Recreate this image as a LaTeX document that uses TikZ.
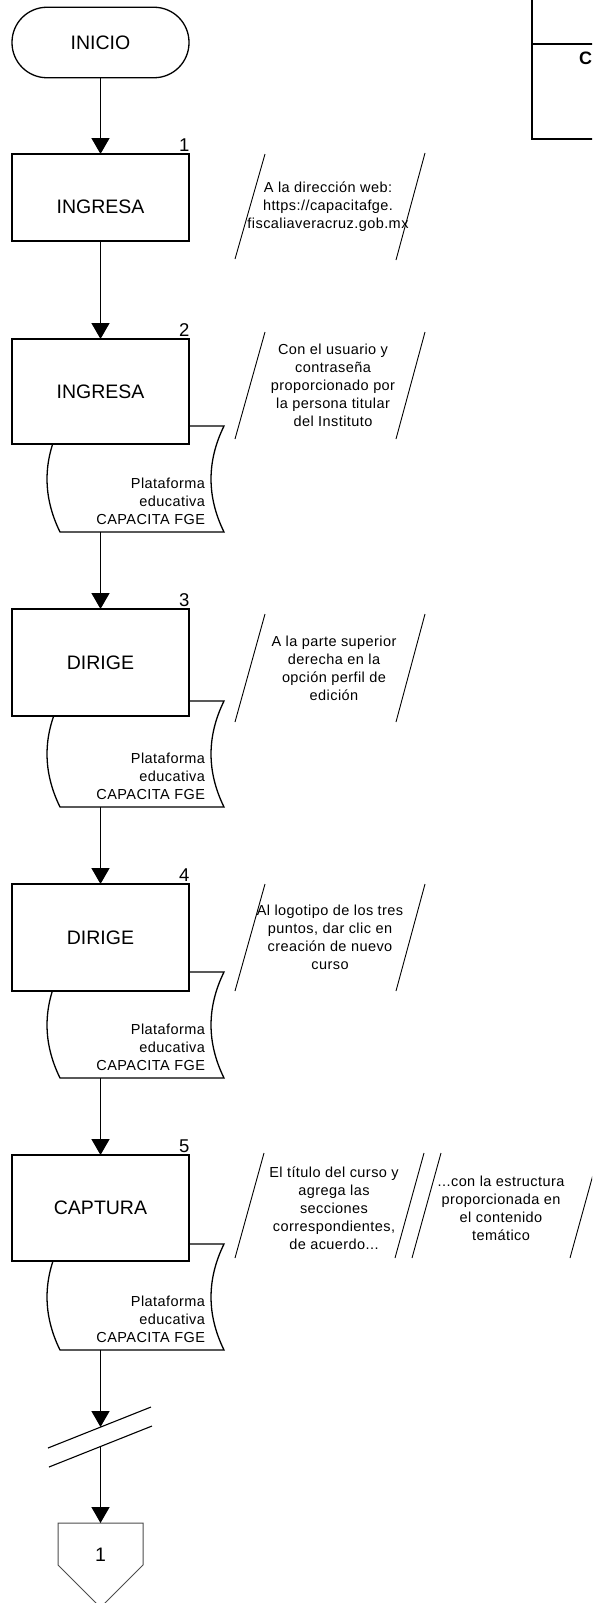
\documentclass[tikz,border=0pt]{standalone}
\usepackage{fontspec}
\setmainfont{Liberation Sans}
\newfontfamily\spacedfont[LetterSpace=3]{Liberation Sans}
\usetikzlibrary{arrows.meta}
\begin{document}
\begin{tikzpicture}[x=1pt,y=-1pt,
  every node/.style={inner sep=0pt, outer sep=0pt},
  bigtext/.style={font=\fontsize{19.5}{22}\selectfont},
  smalltext/.style={font=\spacedfont\fontsize{14.5}{18}\selectfont, align=center},
  procbox/.style={draw, line width=1.7pt, fill=white, minimum width=177pt, bigtext},
  termbox/.style={draw, line width=1.3pt, fill=white, rounded corners=35pt, minimum width=177pt, minimum height=70.5pt, bigtext},
  numlabel/.style={font=\fontsize{18.5}{20}\selectfont, anchor=base east},
  flow/.style={line width=1.5pt, -{Triangle[length=16pt,width=18pt]}},
  docline/.style={line width=1.3pt, fill=white},
  noteline/.style={line width=0.9pt},
  platdoc/.pic={
    \draw[docline] (60,0) -- (224,0) .. controls (206.7,35.3) and (206.7,70.7) .. (224,106)
      -- (60,106) .. controls (42.7,70.7) and (42.7,35.3) .. (60,0) -- cycle;
    \node[smalltext, align=right, anchor=east] at (205,75) {Plataforma\\educativa\\CAPACITA FGE};
    \coordinate (-bot) at (100.5,106);
  }
]
\useasboundingbox (0,0) rectangle (592,1603);
\clip (0,0) rectangle (592,1603);

% top-right partial box
\draw[line width=2.6pt] (532,-10) rectangle (650,139);
\draw[line width=2.6pt] (532,44) -- (650,44);
\node[anchor=west, font=\bfseries\fontsize{18}{20}\selectfont] (hdr) at (579,58) {C};

% documents (behind boxes)
\pic (d2) at (0,426) {platdoc};
\pic (d3) at (0,701) {platdoc};
\pic (d4) at (0,972) {platdoc};
\pic (d5) at (0,1244) {platdoc};

% start
\node[termbox] (ini) at (100.5,42.5) {INICIO};

% process boxes
\node[procbox, minimum height=87pt] (b1) at (100.5,197.5) {};
\node[bigtext] (t1) at (100.5,207) {INGRESA};
\node[procbox, minimum height=105pt] (b2) at (100.5,391.5) {INGRESA};
\node[procbox, minimum height=107pt] (b3) at (100.5,662.5) {DIRIGE};
\node[procbox, minimum height=107pt] (b4) at (100.5,937.5) {DIRIGE};
\node[procbox, minimum height=106pt] (b5) at (100.5,1208) {CAPTURA};

% step numbers
\node[numlabel] (n1) at ([shift={(0.5,-2.5)}]b1.north east) {1};
\node[numlabel] (n2) at ([shift={(0.5,-2.5)}]b2.north east) {2};
\node[numlabel] (n3) at ([shift={(0.5,-2.5)}]b3.north east) {3};
\node[numlabel] (n4) at ([shift={(0.5,-2.5)}]b4.north east) {4};
\node[numlabel] (n5) at ([shift={(0.5,-2.5)}]b5.north east) {5};

% annotations
\draw[noteline] (265,154) -- (235,259);
\draw[noteline] (425,153) -- (396,260);
\node[smalltext] (a1) at (328,206.5) {A la dirección web:\\https://capacitafge.\\fiscaliaveracruz.gob.mx};

\draw[noteline] (265,332) -- (235,439);
\draw[noteline] (425,332) -- (396,439);
\node[smalltext] (a2) at (333,385.5) {Con el usuario y\\contraseña\\proporcionado por\\la persona titular\\del Instituto};

\draw[noteline] (265,614) -- (235,722);
\draw[noteline] (425,614) -- (396,722);
\node[smalltext] (a3) at (334,668) {A la parte superior\\derecha en la\\opción perfil de\\edición};

\draw[noteline] (265,884) -- (235,991);
\draw[noteline] (425,884) -- (396,991);
\node[smalltext] (a4) at (330,937.5) {Al logotipo de los tres\\puntos, dar clic en\\creación de nuevo\\curso};

\draw[noteline] (264,1153) -- (235,1258);
\draw[noteline] (424,1153) -- (395,1258);
\draw[noteline] (441,1153) -- (412,1258);
\draw[noteline] (599,1153) -- (570,1258);
\node[smalltext] (a5) at (334,1208) {El título del curso y\\agrega las\\secciones\\correspondientes,\\de acuerdo...};
\node[smalltext] (a6) at (501,1208.5) {...con la estructura\\proporcionada en\\el contenido\\temático};

% break symbol
\coordinate (brk1) at (100.5,1427);
\coordinate (brk2) at (100.5,1446);
\draw[line width=1.1pt] (48,1448) -- (151,1407);
\draw[line width=1.1pt] (49,1467) -- (152,1426);

% off-page connector
\coordinate (off) at (100.5,1523);
\draw[line width=1pt, draw=black!70] (58,1523) -- (143,1523) -- (143,1565) -- (100.5,1607.5) -- (58,1565) -- cycle;
\node[bigtext] (offnum) at (100.5,1555) {1};

% connectors
\draw[flow] (ini.south) -- (b1.north);
\draw[flow] (b1.south) -- (b2.north);
\draw[flow] (d2-bot) -- (b3.north);
\draw[flow] (d3-bot) -- (b4.north);
\draw[flow] (d4-bot) -- (b5.north);
\draw[flow] (d5-bot) -- (brk1);
\draw[flow] (brk2) -- (off);
\end{tikzpicture}
\end{document}
